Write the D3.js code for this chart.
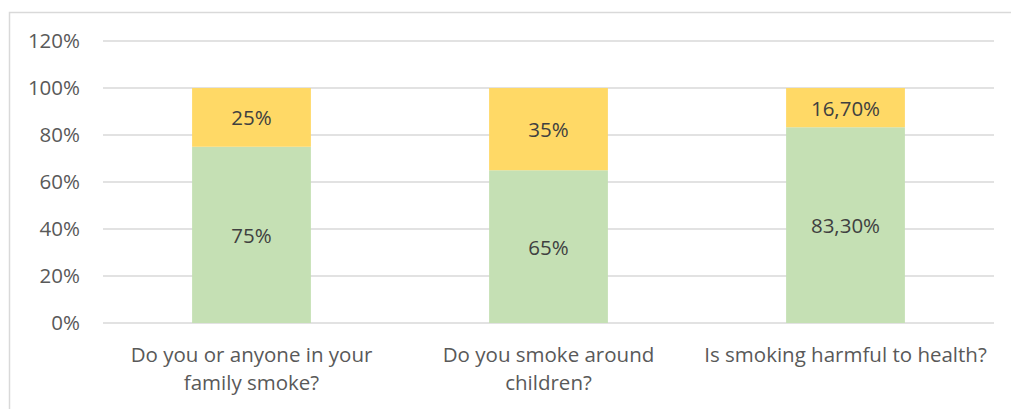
<!DOCTYPE html>
<html>
<head>
<meta charset="utf-8">
<script src="https://cdn.jsdelivr.net/npm/d3@7"></script>
<style>
  body { margin: 0; background: #fff; }
  text { font-family: "Open Sans", sans-serif; }
</style>
</head>
<body>
<div id="container"></div>
<script>
// data
var categories = [
  ["Do you or anyone in your", "family smoke?"],
  ["Do you smoke around", "children?"],
  ["Is smoking harmful to health?"]
];
var yesValues = [75, 65, 83.3];
var noValues = [25, 35, 16.7];
var yesLabels = ["75%", "65%", "83,30%"];
var noLabels = ["25%", "35%", "16,70%"];
var yTicks = [0, 20, 40, 60, 80, 100, 120];

var W = 1011, H = 409;
var margin = { top: 41, right: 17, bottom: 86, left: 103 },
  width = W - margin.left - margin.right,
  height = H - margin.top - margin.bottom;

var svg = d3.select("#container")
  .append("svg")
  .attr("width", W)
  .attr("height", H);

// chart border (bottom/right clipped by the window)
svg.append("rect")
  .attr("x", 9.5).attr("y", 12.5)
  .attr("width", 1010).attr("height", 410)
  .attr("fill", "none")
  .attr("stroke", "#d9d9d9")
  .attr("stroke-width", 1.5);

var g = svg.append("g")
  .attr("transform", "translate(" + margin.left + "," + margin.top + ")");

var x = d3.scaleBand().domain(d3.range(categories.length)).range([0, width]).padding(0);
var y = d3.scaleLinear().domain([0, 120]).range([height, 0]);

// gridlines
g.selectAll(".grid")
  .data(yTicks)
  .enter().append("line")
  .attr("x1", 0).attr("x2", width)
  .attr("y1", function (d) { return y(d); })
  .attr("y2", function (d) { return y(d); })
  .attr("stroke", "#d9d9d9")
  .attr("stroke-width", 1.5);

// y axis labels
var yAxis = d3.axisLeft(y).tickValues(yTicks).tickSize(0).tickPadding(23)
  .tickFormat(function (d) { return d + "%"; });
var ya = g.append("g").call(yAxis);
ya.select(".domain").remove();
ya.selectAll("text")
  .attr("font-size", "20.5px")
  .attr("font-family", "'Open Sans', sans-serif")
  .attr("fill", "#595959");

var barW = x.bandwidth() * 0.4;
var bx = function (i) { return x(i) + (x.bandwidth() - barW) / 2; };

// green (bottom)
g.selectAll(".yes")
  .data(yesValues)
  .enter().append("rect")
  .attr("x", function (d, i) { return bx(i); })
  .attr("y", function (d) { return y(d); })
  .attr("width", barW)
  .attr("height", function (d) { return y(0) - y(d); })
  .attr("fill", "#c5e0b4");

// yellow (top)
g.selectAll(".no")
  .data(noValues)
  .enter().append("rect")
  .attr("x", function (d, i) { return bx(i); })
  .attr("y", function (d, i) { return y(yesValues[i] + d); })
  .attr("width", barW)
  .attr("height", function (d, i) { return y(yesValues[i]) - y(yesValues[i] + d); })
  .attr("fill", "#ffd966");

// data labels
g.selectAll(".yesLbl")
  .data(yesValues)
  .enter().append("text")
  .attr("x", function (d, i) { return x(i) + x.bandwidth() / 2; })
  .attr("y", function (d) { return y(d / 2) + 8; })
  .attr("text-anchor", "middle")
  .attr("font-size", "20.5px")
  .attr("fill", "#404040")
  .text(function (d, i) { return yesLabels[i]; });

g.selectAll(".noLbl")
  .data(noValues)
  .enter().append("text")
  .attr("x", function (d, i) { return x(i) + x.bandwidth() / 2; })
  .attr("y", function (d, i) { return y(yesValues[i] + d / 2) + 8; })
  .attr("text-anchor", "middle")
  .attr("font-size", "20.5px")
  .attr("fill", "#404040")
  .text(function (d, i) { return noLabels[i]; });

// category labels
var cat = g.selectAll(".cat")
  .data(categories)
  .enter().append("text")
  .attr("text-anchor", "middle")
  .attr("font-size", "20.5px")
  .attr("fill", "#595959")
  .attr("transform", function (d, i) {
    return "translate(" + (x(i) + x.bandwidth() / 2) + "," + (height + 39) + ")";
  });
cat.selectAll("tspan")
  .data(function (d) { return d; })
  .enter().append("tspan")
  .attr("x", 0)
  .attr("dy", function (d, i) { return i === 0 ? 0 : 28; })
  .text(function (d) { return d; });
</script>
</body>
</html>
